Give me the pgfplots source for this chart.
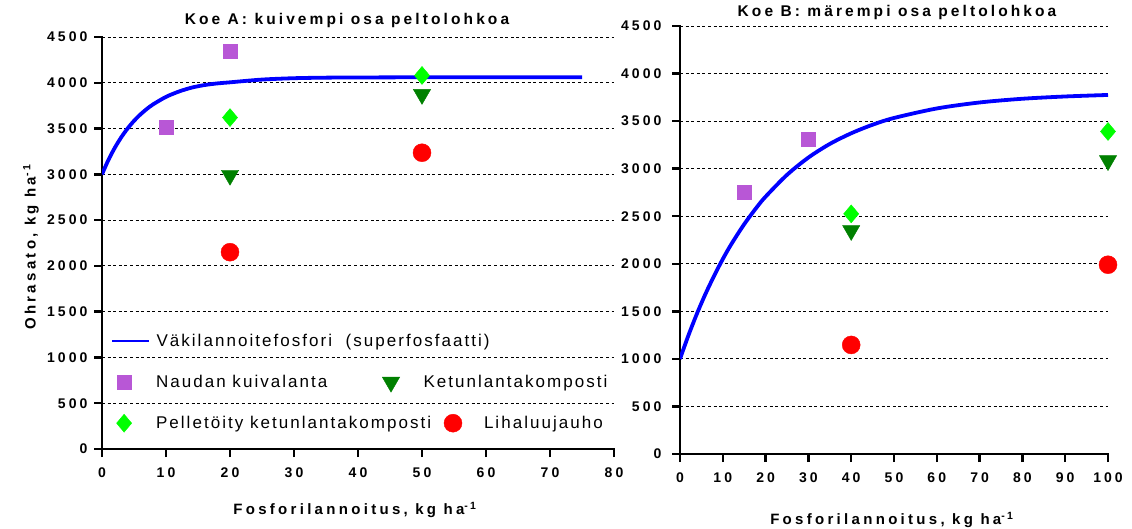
\documentclass[border=0pt]{standalone}
\usepackage{pgfplots}
\pgfplotsset{compat=1.18}
\usepackage{fontspec}
\setmainfont{Liberation Sans}
\newfontfamily\tickfont{Liberation Sans}[LetterSpace=22]
\newfontfamily\titlefont{Liberation Sans}[LetterSpace=20]
\newfontfamily\labelfont{Liberation Sans}[LetterSpace=22]
\newfontfamily\legfont{Liberation Sans}[LetterSpace=12]
\definecolor{cblue}{RGB}{0,0,255}
\definecolor{cpurple}{RGB}{184,87,214}
\definecolor{clime}{RGB}{0,255,0}
\definecolor{cdgreen}{RGB}{0,128,0}
\definecolor{cred}{RGB}{255,0,0}
\pgfplotsset{
  base/.style={
    scale only axis,
    axis x line*=bottom, axis y line*=left,
    axis line style={line width=2.5pt, -, line cap=rect},
    tick align=outside,
    major tick length=8pt,
    tick style={line width=2.5pt, black},
    ymajorgrids,
    grid style={line width=0.8pt, black, dash pattern=on 3pt off 2.6pt},
    ymin=0, ymax=4500, ytick={0,500,...,4500},
    ticklabel style={font=\tickfont\bfseries\fontsize{14}{16}\selectfont},
    /pgf/number format/assume math mode=true,
    /pgf/number format/1000 sep={},
    title style={font=\titlefont\bfseries\fontsize{15.5}{17}\selectfont, anchor=base},
    label style={font=\labelfont\bfseries\fontsize{15}{17}\selectfont},
    xticklabel style={yshift=-7pt},
    yticklabel style={xshift=-3pt},
  },
  mkleg/.style={legend image code/.code={\pgfpathrectangle{\pgfpoint{0pt}{-9pt}}{\pgfpoint{37pt}{18pt}}\pgfusepath{discard}\draw[##1] plot coordinates {(12pt,0pt)};}},
  trleg/.style={legend image code/.code={\draw[##1, overlay] plot coordinates {(-50pt,0pt)};}},
  lnleg/.style={legend image code/.code={\pgfpathrectangle{\pgfpoint{0pt}{-9pt}}{\pgfpoint{37pt}{18pt}}\pgfusepath{discard}\draw[##1, line width=1.8pt] (0pt,0pt) -- (37pt,0pt);}},
  sqm/.style={only marks, mark=square*, mark size=7pt, color=cpurple},
  trm/.style={only marks, mark=triangle*, mark size=10pt, color=cdgreen, mark options={rotate=180}},
  dim/.style={only marks, mark=diamond*, mark size=9pt, color=clime, mark options={xscale=1.12}},
  cim/.style={only marks, mark=*, mark size=9pt, color=cred},
}
\begin{document}
\begin{tikzpicture}
\path[use as bounding box] (0,0) rectangle (1132pt,528pt);
% ---------- Left axis ----------
\begin{axis}[base,
  at={(102pt,79pt)}, anchor=south west,
  width=512pt, height=412pt,
  xmin=0, xmax=80, xtick={0,10,...,80},
  title={Koe A: kuivempi osa peltolohkoa},
  title style={at={(0.4785,1.017)}},
  xlabel={Fosforilannoitus, kg ha\textsuperscript{-1}},
  xlabel style={at={(axis description cs:0.494,-0.16)}, anchor=base},
  ylabel={Ohrasato, kg ha\textsuperscript{-1}},
  ylabel style={at={(axis description cs:-0.1387,0.49)}, anchor=center},
  legend columns=2,
  legend cell align=left,
  legend style={at={(0.0176,0.284)}, anchor=north west, draw=none, fill=none,
    inner sep=0pt, row sep=23pt, font=\legfont\fontsize{17}{19}\selectfont,
    nodes={inner sep=0pt},
    /tikz/every odd column/.style={column sep=6pt},
    /tikz/every even column/.style={column sep=10pt}},
]
\addplot[cblue, line width=3.8pt, smooth, lnleg] coordinates {
(0,3000)(1,3157)(2,3290)(3,3404)(4,3501)(5,3584)(6,3654)(7,3714)(8,3765)(10,3846)(12,3904)(14,3947)(16,3975)(18,3993)(20,4005)(25,4035)(30,4050)(35,4056)(40,4058)(50,4060)(60,4060)(75,4060)};
\addlegendentry{\makebox[0pt][l]{Väkilannoitefosfori\ \ (superfosfaatti)}}
\addlegendimage{empty legend}
\addlegendentry{}
\addplot[sqm, mkleg] coordinates {(10,3515)(20,4340)};
\addlegendentry{\makebox[275pt][l]{Naudan kuivalanta}}
\addplot[trm, trleg] coordinates {(20,2990)(50,3873)};
\addlegendentry{\makebox[0pt][l]{\hspace*{-61pt}Ketunlantakomposti}}
\addplot[dim, mkleg] coordinates {(20,3620)(50,4080)};
\addlegendentry{\makebox[275pt][l]{Pelletöity ketunlantakomposti}}
\addplot[cim, mkleg] coordinates {(20,2150)(50,3236)};
\addlegendentry{Lihaluujauho}
\end{axis}
% ---------- Right axis ----------
\begin{axis}[base,
  at={(680pt,74pt)}, anchor=south west,
  width=428pt, height=428pt,
  xmin=0, xmax=100, xtick={0,10,...,100},
  yticklabel style={xshift=-4pt},
  title={Koe B: märempi osa peltolohkoa},
  title style={at={(0.507,1.009)}},
  xlabel={Fosforilannoitus, kg ha\textsuperscript{-1}},
  xlabel style={at={(axis description cs:0.495,-0.165)}, anchor=base},
]
\addplot[cblue, line width=3.8pt, smooth] coordinates {
(0,1000)(2,1251)(4,1480)(6,1688)(8,1876)(10,2050)(12,2207)(15,2416)(18,2598)(20,2706)(25,2935)(30,3117)(35,3260)(40,3372)(45,3462)(50,3533)(60,3633)(70,3696)(80,3735)(90,3759)(100,3775)};
\addplot[sqm] coordinates {(15,2752)(30,3305)};
\addplot[trm] coordinates {(40,2350)(100,3085)};
\addplot[dim] coordinates {(40,2525)(100,3391)};
\addplot[cim] coordinates {(40,1147)(100,1990)};
\end{axis}
\end{tikzpicture}
\end{document}
